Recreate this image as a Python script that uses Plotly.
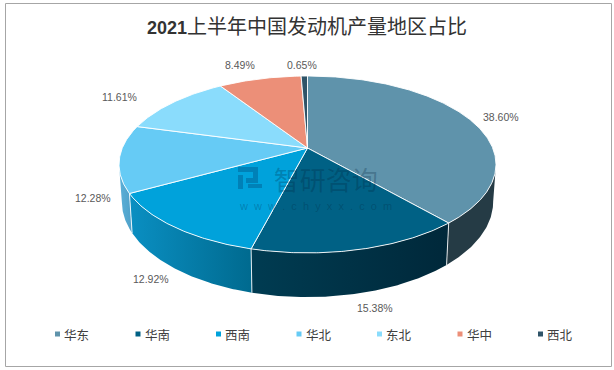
import math
import plotly.graph_objects as go

regions = ["华东", "华南", "西南", "华北", "东北", "华中", "西北"]
shares = [38.60, 15.38, 12.92, 12.28, 11.61, 8.49, 0.65]
share_labels = ["38.60%", "15.38%", "12.92%", "12.28%", "11.61%", "8.49%", "0.65%"]
top_colors = ["#5F93AB", "#006185", "#00A2DB", "#66CBF5", "#8ADCFC", "#EC8F78", "#2F5468"]
side_left = ["#253B45", "#003C52", "#0A8FC2", "#5BB0D8", "#8ADCFC", "#EC8F78", "#2F5468"]
side_right = ["#253B45", "#00283A", "#006A8F", "#4EA0C8", "#8ADCFC", "#EC8F78", "#2F5468"]
label_nudge = [(31, -3), (16, 58.5), (-24, 52), (-26, 40), (-53, -6), (-20, -14), (-2, -11)]

W, H = 614, 370
CX, CY, A, B, K = 307.5, 148.0, 185.2, 85.4, 0.186
DEPTH, BOTTOM_SHRINK = 36.0, 0.985
LEGEND_X0, LEGEND_STEP, LEGEND_Y = 57.5, 80.5, 334


def project(phi):
    u, v = math.sin(phi), -math.cos(phi)
    w = 1 - K * v
    return CX + A * u / w, CY + B * v / w, w


def bottom(phi):
    x, y, w = project(phi)
    return CX + (x - CX) * BOTTOM_SHRINK, y + DEPTH / w


total = sum(shares)
edges = [0.0]
for s in shares:
    edges.append(edges[-1] + s / total * 2 * math.pi)

HORIZON_R = math.acos(-K)
HORIZON_L = 2 * math.pi - HORIZON_R

fig = go.Figure()


def arc(a, b):
    n = max(2, int(abs(b - a) / 0.01))
    return [a + (b - a) * i / n for i in range(n + 1)]


# side walls
seams = []
for i in range(len(shares)):
    a, b = max(edges[i], HORIZON_R), min(edges[i + 1], HORIZON_L)
    if b <= a:
        continue
    phis = arc(a, b)
    xs = [project(p)[0] for p in phis] + [bottom(p)[0] for p in reversed(phis)]
    ys = [project(p)[1] for p in phis] + [bottom(p)[1] for p in reversed(phis)]
    fig.add_trace(go.Scatter(
        x=xs + xs[:1], y=ys + ys[:1], mode="lines", line=dict(width=0, color="rgba(0,0,0,0)"),
        fill="toself",
        fillgradient=dict(type="horizontal",
                          colorscale=[[0, side_left[i]], [1, side_right[i]]]),
        hoverinfo="skip", showlegend=False))
    if HORIZON_R < edges[i + 1] < HORIZON_L:
        seams.append(edges[i + 1])

for p in seams:
    x0, y0, _ = project(p)
    x1, y1 = bottom(p)
    fig.add_trace(go.Scatter(x=[x0, x1], y=[y0, y1], mode="lines",
                             line=dict(color="rgba(255,255,255,0.85)", width=1),
                             hoverinfo="skip", showlegend=False))

# top faces
for i in range(len(shares)):
    phis = arc(edges[i], edges[i + 1])
    xs = [CX] + [project(p)[0] for p in phis] + [CX]
    ys = [CY] + [project(p)[1] for p in phis] + [CY]
    fig.add_trace(go.Scatter(x=xs, y=ys, mode="lines", fill="toself",
                             fillcolor=top_colors[i],
                             line=dict(color="rgba(255,255,255,0.9)", width=1),
                             name=regions[i], hoverinfo="skip", showlegend=False))

# legend
for i, name in enumerate(regions):
    fig.add_trace(go.Scatter(x=[LEGEND_X0 + LEGEND_STEP * i], y=[LEGEND_Y], mode="markers",
                             marker=dict(symbol="square", size=5, color=top_colors[i]),
                             hoverinfo="skip", showlegend=False))
    fig.add_annotation(x=LEGEND_X0 + LEGEND_STEP * i + 4.5, y=LEGEND_Y, text=name, showarrow=False,
                       xanchor="left", yanchor="middle", xref="x", yref="y",
                       font=dict(family="Noto Sans CJK SC", size=12.5, color="#404040"))

# value labels
for i, text in enumerate(share_labels):
    mid = (edges[i] + edges[i + 1]) / 2
    x, y, _ = project(mid)
    dx, dy = label_nudge[i]
    fig.add_annotation(x=x + dx, y=y + dy, text=text, showarrow=False,
                       xref="x", yref="y",
                       font=dict(family="Liberation Sans", size=10.5, color="#595959"))

# watermark
wm = "rgba(0,35,60,0.27)"
nb = "\u00a0"
site = (nb * 2).join("www.chyxx.com")
fig.add_annotation(
    x=237, y=186, xref="x", yref="y", xanchor="left", yanchor="middle", align="left", showarrow=False,
    text=(f'<span style="font-size:11px">{nb * 11}</span>'
          f'<span style="font-family:Noto Sans CJK SC;font-size:26px">智研咨询</span><br>'
          f'<span style="font-size:11px">{site}</span>'),
    font=dict(family="Liberation Sans", size=15, color=wm))

logo = [
    "M 238 167 H 258 V 183 H 246 V 178 H 253 V 172 H 238 Z",
    "M 238 175 H 243 V 189 H 238 Z",
    "M 248 184 H 262 V 188 H 248 Z",
]
shapes = [dict(type="path", path=p, xref="x", yref="y", line=dict(width=0),
               fillcolor="rgba(0,60,110,0.32)", layer="above") for p in logo]
shapes.append(dict(type="rect", xref="x", yref="y", x0=5.5, x1=611.5, y0=366.5, y1=3.5,
                   line=dict(color="#A6A6A6", width=1), fillcolor="rgba(0,0,0,0)", layer="above"))

fig.update_layout(
    width=W, height=H, margin=dict(l=0, r=0, t=0, b=0),
    paper_bgcolor="white", plot_bgcolor="white",
    showlegend=False, shapes=shapes,
    title=dict(
        text='<span style="font-family:Liberation Sans;font-weight:bold;font-size:18px">2021</span>'
             '上半年中国发动机产量地区占比',
        x=0.5, xanchor="center", y=1 - 27 / H, yanchor="middle",
        font=dict(family="Noto Sans CJK SC", size=20, color="#333333")),
    xaxis=dict(range=[0, W], visible=False, fixedrange=True),
    yaxis=dict(range=[H, 0], visible=False, fixedrange=True),
)
fig.write_html("out.html", config={"displayModeBar": False},
               post_script="document.body.style.margin='0';document.documentElement.style.overflow='hidden';")
